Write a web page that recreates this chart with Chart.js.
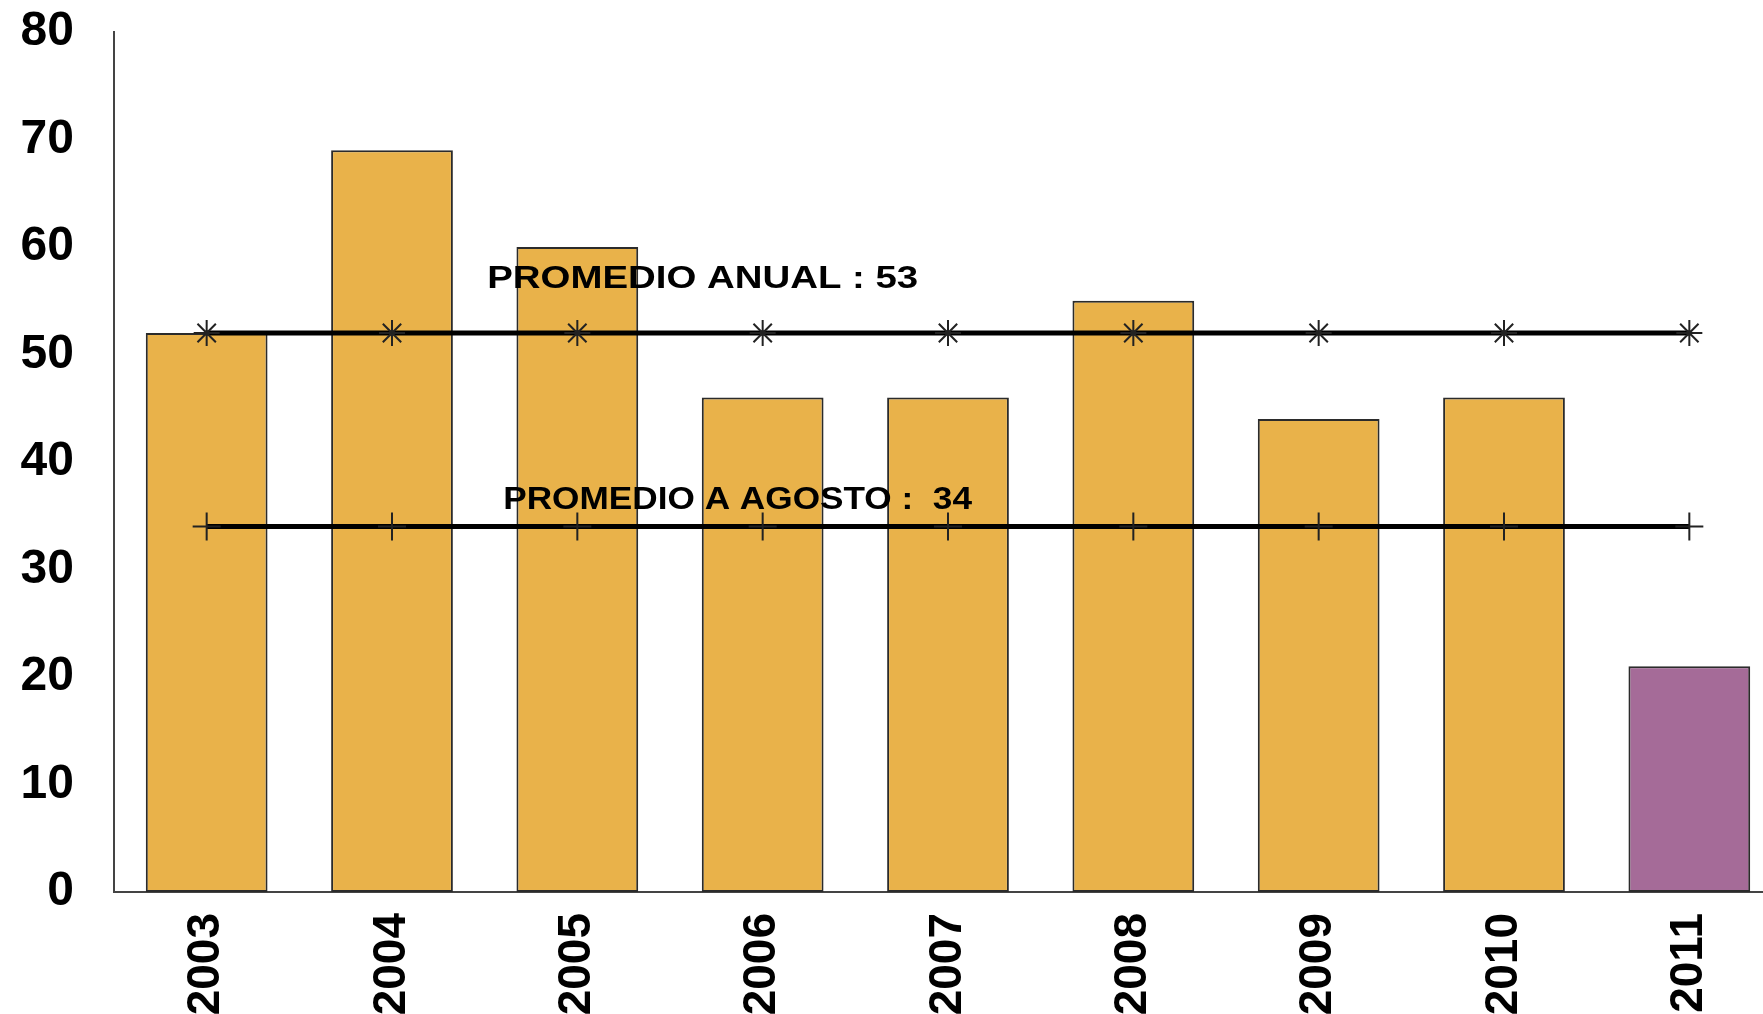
<!DOCTYPE html>
<html>
<head>
<meta charset="utf-8">
<script src="https://cdn.jsdelivr.net/npm/chart.js@4.4.0/dist/chart.umd.min.js"></script>
<style>
  html, body { margin: 0; padding: 0; background: #fff; overflow: hidden; }
  /* a bit wider than the window: the last category runs past the right edge, as in the original */
  #wrap { position: absolute; left: 0; top: 0; width: 1782px; height: 1014px; }
</style>
</head>
<body>
<div id="wrap"><canvas id="mainChart"></canvas></div>
<script>
// Data
const years = ['2003', '2004', '2005', '2006', '2007', '2008', '2009', '2010', '2011'];
const values = [52, 69, 60, 46, 46, 55, 44, 46, 21];
const promedioAnual = [52, 52, 52, 52, 52, 52, 52, 52, 52];
const promedioAgosto = [34, 34, 34, 34, 34, 34, 34, 34, 34];
const yTicks = [0, 10, 20, 30, 40, 50, 60, 70, 80];

const ORANGE = '#E9B24A';
const PURPLE = '#A56B98';
const FONT = '"Liberation Sans", Arial, Helvetica, sans-serif';

// Text labels drawn over the lines (anchored on scale values)
const notes = [
    { text: 'PROMEDIO ANUAL : 53', at: 1.514, value: 56.2, scaleX: 1.2 },
    { text: 'PROMEDIO A AGOSTO :  34', at: 1.6, value: 35.6, scaleX: 1.1 }
];

const notesPlugin = {
    id: 'notes',
    afterDatasetsDraw(chart) {
        const ctx = chart.ctx;
        const xs = chart.scales.x;
        const ys = chart.scales.y;
        notes.forEach(n => {
            const x = xs.left + (n.at + 0.5) * (xs.width / years.length);
            const y = ys.getPixelForValue(n.value);
            ctx.save();
            ctx.translate(x, y);
            ctx.scale(n.scaleX, 1);
            ctx.font = 'bold 32px ' + FONT;
            ctx.fillStyle = '#000';
            ctx.textAlign = 'left';
            ctx.textBaseline = 'alphabetic';
            ctx.fillText(n.text, 0, 0);
            ctx.restore();
        });
    }
};

function initChart() {
    const ctx = document.getElementById('mainChart').getContext('2d');
    new Chart(ctx, {
        type: 'bar',
        data: {
            labels: years,
            datasets: [
                {
                    type: 'line',
                    label: 'Promedio anual',
                    data: promedioAnual,
                    borderColor: '#000',
                    borderWidth: 5,
                    pointStyle: 'star',
                    pointRadius: 13,
                    pointBorderColor: '#222',
                    pointBorderWidth: 2,
                    pointBackgroundColor: '#222',
                    fill: false,
                    order: 0
                },
                {
                    type: 'line',
                    label: 'Promedio a agosto',
                    data: promedioAgosto,
                    borderColor: '#000',
                    borderWidth: 5,
                    pointStyle: 'cross',
                    pointRadius: 14,
                    pointBorderColor: '#222',
                    pointBorderWidth: 2,
                    fill: false,
                    order: 0
                },
                {
                    label: 'Valores',
                    data: values,
                    backgroundColor: years.map(y => y === '2011' ? PURPLE : ORANGE),
                    borderColor: '#2b2b2b',
                    borderWidth: 2,
                    borderSkipped: false,
                    barPercentage: 0.657,
                    categoryPercentage: 1.0,
                    order: 1
                }
            ]
        },
        options: {
            responsive: true,
            maintainAspectRatio: false,
            animation: false,
            layout: { autoPadding: false, padding: { left: 0, top: 32, right: 0, bottom: 0 } },
            plugins: {
                legend: { display: false },
                tooltip: { enabled: false }
            },
            scales: {
                x: {
                    grid: { display: false, drawTicks: false },
                    border: { display: true, color: '#444', width: 2 },
                    ticks: {
                        color: '#000',
                        font: { family: FONT, size: 46, weight: 'bold' },
                        minRotation: 90,
                        maxRotation: 90,
                        autoSkip: false,
                        padding: 21
                    },
                    afterFit(scale) {
                        scale.height = 122;
                        scale.paddingLeft = 0;
                        scale.paddingRight = 0;
                    }
                },
                y: {
                    min: yTicks[0],
                    max: yTicks[yTicks.length - 1],
                    grid: { display: false, drawTicks: false },
                    border: { display: true, color: '#444', width: 2 },
                    ticks: {
                        stepSize: 10,
                        color: '#000',
                        font: { family: FONT, size: 48, weight: 'bold' },
                        padding: 40
                    },
                    afterFit(scale) {
                        scale.width = 114;
                        scale.paddingTop = 0;
                        scale.paddingBottom = 0;
                    }
                }
            }
        },
        plugins: [notesPlugin]
    });
}

window.onload = function() {
    initChart();
};
</script>
</body>
</html>
